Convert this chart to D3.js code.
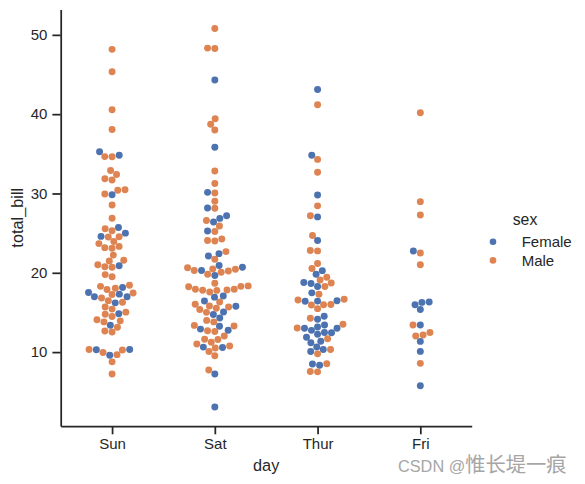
<!DOCTYPE html>
<html>
<head>
<meta charset="utf-8">
<script src="https://cdn.jsdelivr.net/npm/d3@7"></script>
<style>
  html, body { margin: 0; padding: 0; background: #fff; }
  svg { display: block; font-family: "Liberation Sans", Arial, sans-serif; }
</style>
</head>
<body>
<svg id="chart" width="585" height="484"></svg>
<script>
// ---- data (tips dataset: total_bill by day, hue = sex) ----
const days = ["Sun", "Sat", "Thur", "Fri"];
const sexes = ["Female", "Male"];
const colors = ["#4C72B0", "#DD8452"];
const yTicks = [10, 20, 30, 40, 50];

const sunBill = [16.99,10.34,21.01,23.68,24.59,25.29,8.77,26.88,15.04,14.78,10.27,35.26,15.42,18.43,14.83,21.58,10.33,16.29,16.97,
  17.46,13.94,9.68,30.40,18.29,22.23,32.40,28.55,18.04,12.54,10.29,34.81,9.94,25.56,19.49,
  38.07,23.95,25.71,17.31,29.93,
  14.07,13.13,17.26,24.55,19.77,29.85,48.17,25.00,13.39,16.49,21.50,12.66,16.21,13.81,17.51,24.52,20.76,31.71,
  7.25,31.85,16.82,32.90,17.89,14.48,9.60,34.63,34.65,23.33,45.35,23.17,40.55,20.69,20.90,30.46,18.15,23.10,15.69];
const sunSex = "FMMMFMMMMMMFMMFMFMF"+"MMMMMMMMMMFFMMM"+"MMFFM"+"MMMMMFMFFMMMFMFMMM"+"MMMMMMFMMMMMMMFMFMM";

const satBill = [20.65,17.92,20.29,15.77,39.42,19.82,17.81,13.37,12.69,21.70,19.65,9.55,18.35,15.06,20.69,17.78,24.06,16.31,16.93,18.69,31.27,16.04,
  38.01,26.41,11.24,48.27,20.29,13.81,11.02,18.29,17.59,20.08,16.45,3.07,20.23,15.01,12.02,17.07,26.86,25.28,14.73,10.51,17.92,
  44.30,22.42,20.92,15.36,20.49,25.21,18.24,14.31,14.00,7.25,
  10.59,10.63,50.81,15.81,
  26.59,38.73,24.27,12.76,30.06,25.89,48.33,13.27,28.17,12.90,28.15,11.59,7.74,30.14,
  20.45,13.28,22.12,24.01,15.69,11.61,10.77,15.53,10.07,12.60,32.83,35.83,29.03,27.18,22.67,17.82];
const satSex = "MMFFMMMMMMFMMFFMMMFMMM"+"MFMMMMMMMMFFMMMFFFFMM"+"FFFMMMMFMF"+"FFMM"+"MMMFMMMFFFMMMF"+"MMFMMMMMMMMFMFMM";

const thurBill = [27.20,22.76,17.29,19.44,16.66,10.07,32.68,15.98,34.83,13.03,18.28,24.71,21.16,
  10.65,12.43,24.08,11.69,13.42,14.26,15.95,12.48,29.80,8.52,14.52,11.38,22.82,19.08,20.27,11.17,12.26,18.26,8.51,10.33,14.15,16.00,13.16,17.47,34.30,41.19,27.05,16.43,8.35,18.64,11.87,9.78,7.51,
  19.81,28.44,15.48,16.58,7.56,10.34,43.11,13.00,13.51,18.71,12.74,13.00,16.40,20.53,16.47,
  18.78];
const thurSex = "MMMMMFMMFMMMM"+"FFFMFMMFFMFFMMFFFFFFFMFFMMFFFFFMM"+"FMMMMMFFMMFFFMF"+"F";

const friBill = [28.97,22.49,5.75,16.32,22.75,40.17,27.28,12.03,21.01,12.46,11.35,15.38,
  12.16,13.42,8.58,15.98,13.42,16.27,10.09];
const friSex = "MMFFFMMMMMFF"+"MFMFMFF";

const billByDay = [sunBill, satBill, thurBill, friBill];
const sexByDay = [sunSex, satSex, thurSex, friSex];

// ---- layout ----
const svg = d3.select("#chart");
const mLeft = 60.7, mRight = 471.7, mTop = 9.5, mBottom = 426;
const ink = "#262626";
const font = '"Liberation Sans", Arial, sans-serif';

const allVals = billByDay.flat();
const [vmin, vmax] = d3.extent(allVals);
const pad = (vmax - vmin) * 0.05;

const x = d3.scaleLinear().domain([-0.5, days.length - 0.5]).range([mLeft, mRight]);
const y = d3.scaleLinear().domain([vmin - pad, vmax + pad]).range([mBottom, mTop]);
const color = d3.scaleOrdinal().domain(sexes).range(colors);

// ---- beeswarm (seaborn algorithm) ----
const R = 5 / 2 * (100 / 72);
function beeswarm(pts) {
  const midline = pts[0].px;
  const swarm = [pts[0]];
  for (let i = 1; i < pts.length; i++) {
    const p = pts[i];
    const neighbors = [];
    for (let j = swarm.length - 1; j >= 0; j--) {
      const q = swarm[j];
      if ((p.py - q.py) < (p.r + q.r)) neighbors.push(q); else break;
    }
    let cands = [p.px];
    let leftFirst = true;
    for (const q of neighbors) {
      const dy = p.py - q.py;
      const dx = Math.sqrt(Math.max((p.r + q.r) ** 2 - dy * dy, 0)) * 1.05;
      const cl = q.px - dx, cr = q.px + dx;
      if (leftFirst) cands.push(cl, cr); else cands.push(cr, cl);
      leftFirst = !leftFirst;
    }
    cands = cands.map((c, k) => ({c, k, o: Math.abs(c - midline)}))
      .sort((a, b) => a.o - b.o || a.k - b.k).map(d => d.c);
    let chosen = cands[0];
    if (neighbors.length) {
      for (const c of cands) {
        let ok = true;
        for (const q of neighbors) {
          const ddx = q.px - c, ddy = q.py - p.py;
          if (ddx * ddx + ddy * ddy < (q.r + p.r) ** 2) { ok = false; break; }
        }
        if (ok) { chosen = c; break; }
      }
    }
    p.px = chosen;
    swarm.push(p);
  }
  return swarm;
}

const points = [];
days.forEach((d, di) => {
  const vals = billByDay[di];
  const sx = sexByDay[di];
  const cx = x(di);
  let pts = vals.map((v, i) => ({
    v, sex: sx[i] === "F" ? "Female" : "Male", idx: i,
    px: cx, py: -y(v), r: R
  }));
  const sorted = pts.slice().sort((a, b) => a.py - b.py || a.idx - b.idx);
  beeswarm(sorted);
  const half = (x(0.4) - x(0));
  pts.forEach(p => {
    if (p.px < cx - half) p.px = cx - half;
    if (p.px > cx + half) p.px = cx + half;
    points.push(p);
  });
});

// ---- axes ----
const gx = svg.append("g").attr("transform", `translate(0,${mBottom})`)
  .call(d3.axisBottom(x).tickValues(d3.range(days.length)).tickFormat(i => days[i])
    .tickSize(8.3).tickSizeOuter(0).tickPadding(4.5));
const gy = svg.append("g").attr("transform", `translate(${mLeft},0)`)
  .call(d3.axisLeft(y).tickValues(yTicks).tickSize(8.3).tickSizeOuter(0).tickPadding(5));

[gx, gy].forEach(g => {
  g.select(".domain").attr("stroke", ink).attr("stroke-width", 1.75);
  g.selectAll(".tick line").attr("stroke", ink).attr("stroke-width", 1.75);
  g.selectAll(".tick text").attr("fill", ink).attr("font-size", 15).attr("font-family", font);
});

svg.append("text").attr("x", (mLeft + mRight) / 2).attr("y", 471)
  .attr("text-anchor", "middle").attr("font-size", 16.3).attr("fill", ink).attr("font-family", font)
  .text("day");
svg.append("text").attr("transform", `translate(23,${(mTop + mBottom) / 2}) rotate(-90)`)
  .attr("text-anchor", "middle").attr("font-size", 16.3).attr("fill", ink).attr("font-family", font)
  .text("total_bill");

// ---- points ----
svg.append("g").selectAll("circle").data(points).join("circle")
  .attr("cx", d => d.px).attr("cy", d => -d.py).attr("r", R)
  .attr("fill", d => color(d.sex));

// ---- legend ----
const lg = svg.append("g");
lg.append("text").attr("x", 525).attr("y", 224.5).attr("text-anchor", "middle")
  .attr("font-size", 15.8).attr("fill", ink).attr("font-family", font).text("sex");
sexes.forEach((s, i) => {
  const yy = 241.8 + i * 18.6;
  lg.append("circle").attr("cx", 493).attr("cy", yy).attr("r", 3.3).attr("fill", color(s));
  lg.append("text").attr("x", 521.7).attr("y", yy + 5.2).attr("font-size", 15)
    .attr("fill", ink).attr("font-family", font).text(s);
});

// ---- watermark ----
const wm = svg.append("text").attr("x", 398).attr("y", 471.5)
  .attr("fill", "#a6a6a6").attr("font-family", '"Liberation Sans", Arial, "Noto Sans CJK SC", sans-serif');
wm.append("tspan").attr("font-size", 16.3).text("CSDN @");
wm.append("tspan").attr("font-size", 20.3).attr("font-family", '"Noto Sans CJK SC", sans-serif').text("惟长堤一痕");
</script>
</body>
</html>
